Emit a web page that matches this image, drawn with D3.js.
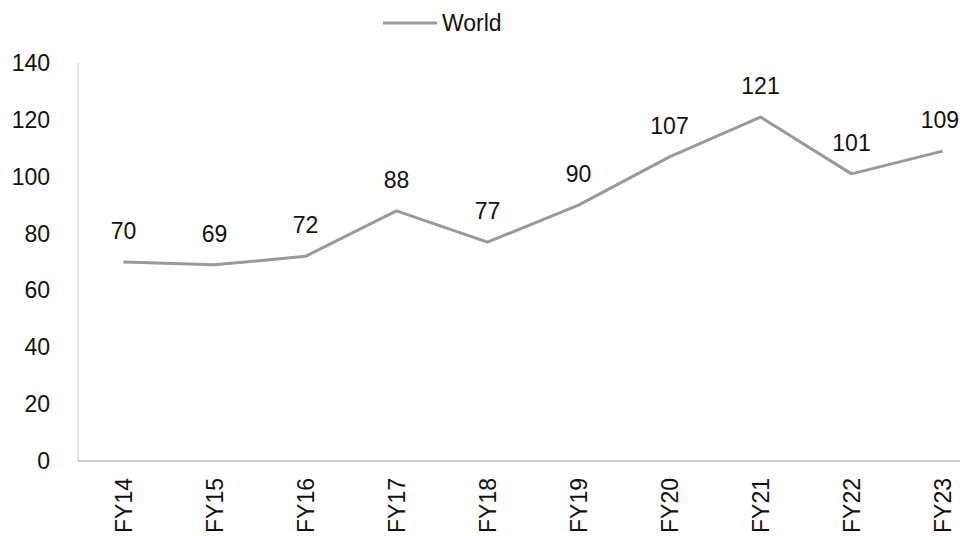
<!DOCTYPE html>
<html>
<head>
<meta charset="utf-8">
<script src="https://cdn.jsdelivr.net/npm/d3@7"></script>
<style>
  html, body { margin: 0; padding: 0; background: #fff; }
  svg { display: block; font-family: "Liberation Sans", Arial, sans-serif; }
</style>
</head>
<body>
<svg id="chart" width="960" height="536"></svg>
<script>
// Fiscal years and index values for the World series
const categories = ["FY14", "FY15", "FY16", "FY17", "FY18", "FY19", "FY20", "FY21", "FY22", "FY23"];
const worldValues = [70, 69, 72, 88, 77, 90, 107, 121, 101, 109];
const yTicks = [0, 20, 40, 60, 80, 100, 120, 140];
const seriesName = "World";

const width = 960, height = 536;
const svg = d3.select("#chart");
const margin = { left: 78, top: 63, bottom: 75 };
const plotBottom = height - margin.bottom;
const bandW = 91;

const x = d3.scaleBand()
  .domain(categories)
  .range([margin.left, margin.left + bandW * categories.length])
  .paddingInner(0).paddingOuter(0);

const y = d3.scaleLinear().domain([0, 140]).range([plotBottom, margin.top]);

const cx = d => x(d) + x.bandwidth() / 2;

// Axis lines
svg.append("line")
  .attr("x1", margin.left).attr("x2", margin.left)
  .attr("y1", y(140)).attr("y2", plotBottom)
  .attr("stroke", "#c8c8c8").attr("stroke-width", 1);
svg.append("line")
  .attr("x1", margin.left).attr("x2", x.range()[1])
  .attr("y1", plotBottom).attr("y2", plotBottom)
  .attr("stroke", "#c0c0c0").attr("stroke-width", 1.5);

// Y tick labels
svg.append("g").selectAll("text")
  .data(yTicks).join("text")
  .attr("x", 50)
  .attr("y", d => y(d))
  .attr("dy", "0.35em")
  .attr("text-anchor", "end")
  .attr("font-size", 23)
  .attr("fill", "#111")
  .text(d => d);

// X tick labels, rotated
svg.append("g").selectAll("text")
  .data(categories).join("text")
  .attr("transform", d => `translate(${cx(d) + 8},${plotBottom + 17}) rotate(-90)`)
  .attr("text-anchor", "end")
  .attr("font-size", 23)
  .attr("fill", "#111")
  .text(d => d);

// Series line
const line = d3.line()
  .x((d, i) => cx(categories[i]))
  .y(d => y(d));

svg.append("path")
  .datum(worldValues)
  .attr("d", line)
  .attr("fill", "none")
  .attr("stroke", "#9a9a9a")
  .attr("stroke-width", 3)
  .attr("stroke-linejoin", "round");

// Value labels, kept inside the right edge
svg.append("g").selectAll("text")
  .data(worldValues).join("text")
  .attr("y", d => y(d) - 23)
  .attr("text-anchor", "middle")
  .attr("font-size", 23)
  .attr("fill", "#111")
  .text(d => d)
  .attr("x", function (d, i) {
    const half = this.getComputedTextLength() / 2;
    return Math.min(cx(categories[i]), width - 1 - half);
  });

// Legend
const legend = svg.append("g");
legend.append("line")
  .attr("x1", 383).attr("x2", 437)
  .attr("y1", 23).attr("y2", 23)
  .attr("stroke", "#9a9a9a").attr("stroke-width", 3);
legend.append("text")
  .attr("x", 442).attr("y", 23)
  .attr("dy", "0.35em")
  .attr("font-size", 23)
  .attr("fill", "#111")
  .text(seriesName);
</script>
</body>
</html>
